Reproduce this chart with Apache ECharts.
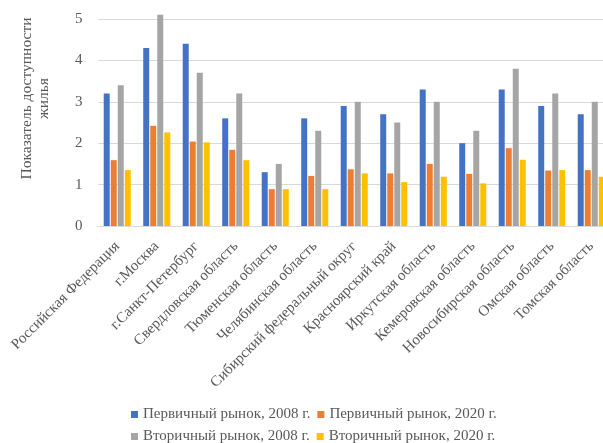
<!DOCTYPE html>
<html>
<head>
<meta charset="utf-8">
<script src="https://cdn.jsdelivr.net/npm/echarts@6/dist/echarts.min.js"></script>
<style>
  html, body { margin: 0; padding: 0; background: #ffffff; }
  #chart { width: 603px; height: 443px; }
</style>
</head>
<body>
<div id="chart"></div>
<script>
// Regions shown along the category axis
const regions = [
  'Российская Федерация', 'г.Москва', 'г.Санкт-Петербург', 'Свердловская область',
  'Тюменская область', 'Челябинская область', 'Сибирский федеральный округ',
  'Красноярский край', 'Иркутская область', 'Кемеровская область',
  'Новосибирская область', 'Омская область', 'Томская область'
];

// Housing affordability index per region
const primary2008   = [3.2, 4.3, 4.4, 2.6, 1.3, 2.6, 2.9, 2.7, 3.3, 2.0, 3.3, 2.9, 2.7];
const primary2020   = [1.59, 2.42, 2.04, 1.84, 0.89, 1.21, 1.37, 1.27, 1.5, 1.26, 1.88, 1.34, 1.35];
const secondary2008 = [3.4, 5.1, 3.7, 3.2, 1.5, 2.3, 3.0, 2.5, 3.0, 2.3, 3.8, 3.2, 3.0];
const secondary2020 = [1.35, 2.26, 2.02, 1.59, 0.89, 0.89, 1.27, 1.06, 1.19, 1.03, 1.6, 1.35, 1.19];

const seriesNames = [
  'Первичный рынок, 2008 г.', 'Первичный рынок, 2020 г.',
  'Вторичный рынок, 2008 г.', 'Вторичный рынок, 2020 г.'
];
const seriesData = [primary2008, primary2020, secondary2008, secondary2020];
const seriesColors = ['#4472C4', '#ED7D31', '#A5A5A5', '#FFC000'];

const yTitle = 'Показатель доступности\nжилья';

const FONT = '"Liberation Serif", "DejaVu Serif", serif';
const TEXT = '#595959';

const chart = echarts.init(document.getElementById('chart'), null, { renderer: 'canvas' });

chart.setOption({
  animation: false,
  backgroundColor: '#ffffff',
  color: seriesColors,
  grid: {
    show: false,
    left: 97.5, right: -8, top: -22.4, bottom: 217,
    containLabel: false,
    outerBoundsMode: 'none'
  },
  legend: {
    data: seriesNames,
    left: 131,
    top: 407,
    padding: 0,
    width: 400,
    icon: 'rect',
    itemWidth: 7,
    itemHeight: 7,
    itemGap: 7,
    textStyle: { color: TEXT, fontFamily: FONT, fontSize: 15 }
  },
  xAxis: {
    type: 'category',
    data: regions,
    axisLine: { show: true, lineStyle: { color: '#d9d9d9', width: 1 } },
    axisTick: { show: false },
    splitLine: { show: false },
    splitArea: { show: false },
    axisLabel: {
      interval: 0,
      rotate: 45,
      margin: 18,
      color: TEXT,
      fontFamily: FONT,
      fontSize: 15
    }
  },
  yAxis: {
    type: 'value',
    min: 0,
    max: 6,
    interval: 1,
    axisLine: { show: false },
    axisTick: { show: false },
    minorTick: { show: false },
    axisLabel: { margin: 15, color: TEXT, fontFamily: FONT, fontSize: 15, showMaxLabel: false },
    splitLine: { show: true, lineStyle: { color: '#d9d9d9', width: 1 } }
  },
  graphic: [
    {
      // plain white strip along the left edge of the plot area
      type: 'rect',
      z: 100,
      silent: true,
      shape: { x: 95.5, y: 0, width: 2.8, height: 224.5 },
      style: { fill: '#ffffff' }
    },
    {
      type: 'text',
      z: 100,
      x: 35,
      y: 98.5,
      rotation: Math.PI / 2,
      style: {
        text: yTitle,
        align: 'center',
        verticalAlign: 'middle',
        fill: TEXT,
        font: '15.5px ' + FONT,
        lineHeight: 17
      }
    }
  ],
  series: seriesData.map((d, i) => ({
    name: seriesNames[i],
    type: 'bar',
    data: d,
    barWidth: 6,
    barGap: '17%',
    itemStyle: { color: seriesColors[i] }
  }))
});
</script>
</body>
</html>
